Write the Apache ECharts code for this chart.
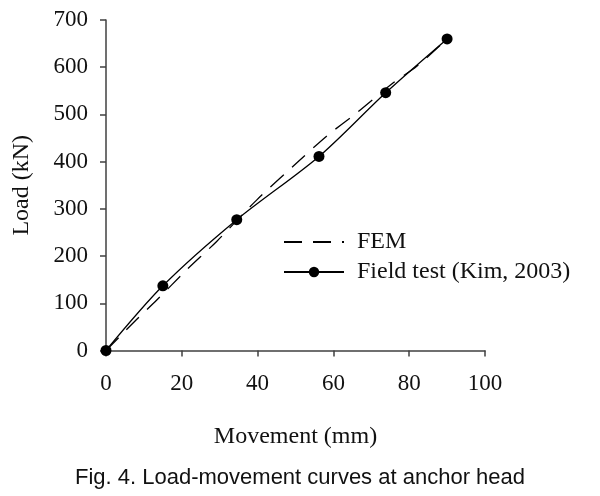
<!DOCTYPE html>
<html>
<head>
<meta charset="utf-8">
<script src="https://cdn.jsdelivr.net/npm/echarts@6/dist/echarts.min.js"></script>
<style>html,body{margin:0;padding:0;background:#fff;}#c{width:600px;height:496px;}</style>
</head>
<body>
<div id="c"></div>
<script>
var femX = [0, 8, 13.4, 21.3, 29.2, 39.8, 50.3, 58.2, 66.1, 75.8, 82, 90];
var femY = [0, 65, 107, 171, 231, 319, 397, 454, 503, 567, 602, 660];
var fieldX = [0, 15, 34.5, 56.2, 73.8, 90];
var fieldY = [0, 137, 277, 411, 546, 660];
var xTicks = [0, 20, 40, 60, 80, 100];
var yTicks = [0, 100, 200, 300, 400, 500, 600, 700];
var seriesNames = ['FEM', 'Field test (Kim, 2003)'];
var caption = 'Fig. 4. Load-movement curves at anchor head';

function pairs(xs, ys) { return xs.map(function (x, i) { return [x, ys[i]]; }); }

var serif = 'Liberation Serif';
var axisCol = '#404040';
var chart = echarts.init(document.getElementById('c'), null, { renderer: 'canvas' });
chart.setOption({
  backgroundColor: '#fff',
  animation: false,
  title: {
    text: caption,
    left: 'center',
    top: 462,
    textStyle: { fontFamily: 'Liberation Sans', fontSize: 22, fontWeight: 'normal', color: '#111' }
  },
  grid: { left: 106, right: 115, top: 20, bottom: 145.5 },
  legend: {
    orient: 'vertical',
    left: 278,
    top: 225,
    itemWidth: 60,
    itemHeight: 13,
    itemGap: 6,
    data: [
      { name: seriesNames[0], itemStyle: { color: 'rgba(0,0,0,0)', borderWidth: 0 } },
      seriesNames[1]
    ],
    textStyle: { fontFamily: serif, fontSize: 24, color: '#111', padding: [0, 0, 0, 8] }
  },
  xAxis: {
    type: 'value', min: xTicks[0], max: xTicks[xTicks.length - 1], interval: 20,
    name: 'Movement (mm)', nameLocation: 'middle', nameGap: 74,
    nameTextStyle: { fontFamily: serif, fontSize: 24, color: '#111' },
    axisLine: { show: true, lineStyle: { color: axisCol, width: 1.5 } },
    axisTick: { show: true, inside: false, length: 6, lineStyle: { color: axisCol, width: 1.5 } },
    axisLabel: { fontFamily: serif, fontSize: 23, color: '#111', margin: 22 },
    splitLine: { show: false }
  },
  yAxis: {
    type: 'value', min: yTicks[0], max: yTicks[yTicks.length - 1], interval: 100,
    name: 'Load (kN)', nameLocation: 'middle', nameGap: 72,
    nameTextStyle: { fontFamily: serif, fontSize: 24, color: '#111' },
    axisLine: { show: true, lineStyle: { color: axisCol, width: 1.5 } },
    axisTick: { show: true, inside: false, length: 6, lineStyle: { color: axisCol, width: 1.5 } },
    axisLabel: { fontFamily: serif, fontSize: 23, color: '#111', margin: 18 },
    splitLine: { show: false }
  },
  series: [
    {
      name: seriesNames[0], type: 'line', data: pairs(femX, femY),
      smooth: 0.3, symbol: 'none', showSymbol: false,
      lineStyle: { color: '#000', width: 1.3, type: [18, 11] },
      itemStyle: { color: '#000' }
    },
    {
      name: seriesNames[1], type: 'line', data: pairs(fieldX, fieldY),
      smooth: 0.3, symbol: 'circle', symbolSize: 11,
      lineStyle: { color: '#000', width: 1.3 },
      itemStyle: { color: '#000' }
    }
  ]
});
</script>
</body>
</html>
